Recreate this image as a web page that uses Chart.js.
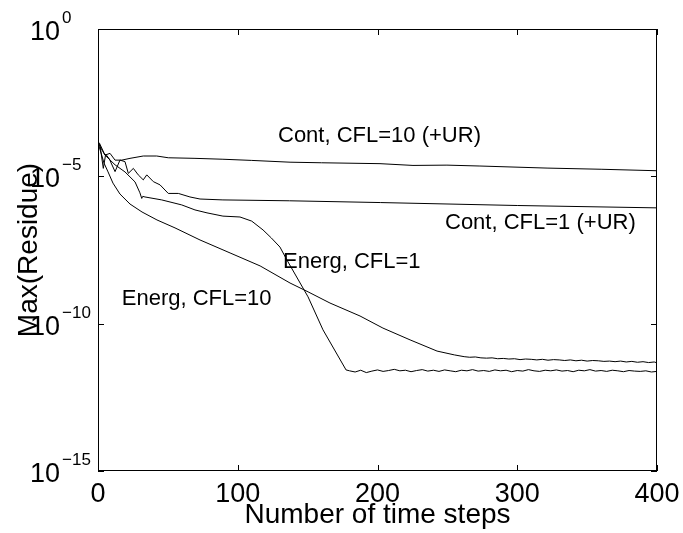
<!DOCTYPE html>
<html>
<head>
<meta charset="utf-8">
<script src="https://cdn.jsdelivr.net/npm/chart.js@4.4.1/dist/chart.umd.min.js"></script>
<style>
body{margin:0;background:#fff;}
#wrap{width:683px;height:533px;}
</style>
</head>
<body>
<div id="wrap"><canvas id="myChart" width="683" height="533"></canvas></div>
<script>
// axis ticks
var xTicks=[0,100,200,300,400];
var yTickExps=[0,-5,-10,-15];
var yTickSup=["0","\u22125","\u221210","\u221215"];

// residues as log10 values
var contCfl10Steps=[0,1,5,8.6,12.2,17,22.9,32.4,42,50.3,69.4,89.4,110,137.4,160,201.8,225.4,249.7,273.3,321.3,360,400];
var contCfl10Log=[-3.9,-3.87,-4.28,-4.22,-4.45,-4.45,-4.39,-4.31,-4.31,-4.37,-4.39,-4.42,-4.46,-4.52,-4.54,-4.57,-4.63,-4.62,-4.65,-4.72,-4.76,-4.81];

var contCfl1Steps=[0,1.4,3.8,5.5,8,12.2,15.7,19.3,21.7,25.3,28.8,32.4,34.9,39.6,44.4,50.3,57.5,65.8,73,89.4,137,202,300,400];
var contCfl1Log=[-3.87,-3.94,-4.73,-4.25,-4.40,-4.84,-4.45,-4.50,-4.90,-4.73,-4.95,-5.12,-4.95,-5.18,-5.29,-5.58,-5.58,-5.70,-5.77,-5.80,-5.83,-5.89,-5.99,-6.07];

var energCfl1Steps=[0,5,12.2,19.3,26.5,30,31.3,32,33.6,45.6,59.9,69.4,78,89.4,101.6,110,118.1,124,130.2,135.2,150.3,161,177.5,
  180,184,188,192,196,200,204,208,212,216,220,224,228,232,236,240,244,248,252,256,260,264,268,272,276,280,284,288,292,296,
  300,304,308,312,316,320,324,328,332,336,340,344,348,352,356,360,364,368,372,376,380,384,388,392,396,400];
var energCfl1Log=[-3.87,-4.28,-4.61,-4.85,-5.19,-5.56,-5.75,-5.68,-5.70,-5.80,-5.97,-6.14,-6.24,-6.35,-6.38,-6.52,-6.82,-7.09,-7.40,-7.84,-9.09,-10.21,-11.57,
  -11.60,-11.64,-11.58,-11.66,-11.61,-11.57,-11.62,-11.59,-11.55,-11.60,-11.58,-11.63,-11.59,-11.56,-11.61,-11.58,-11.62,-11.57,-11.60,-11.63,-11.58,-11.60,-11.56,-11.61,-11.59,-11.62,-11.57,-11.60,-11.58,-11.63,
  -11.59,-11.61,-11.56,-11.60,-11.62,-11.58,-11.60,-11.57,-11.61,-11.59,-11.63,-11.58,-11.60,-11.56,-11.61,-11.59,-11.62,-11.58,-11.60,-11.63,-11.59,-11.61,-11.62,-11.60,-11.64,-11.62];

var energCfl10Steps=[0,2.2,4.3,7.2,10.7,15.7,22.9,31.5,42.2,55.1,73,94.5,116,137.4,150.3,166,187.5,203.9,223.3,242.6,255,
  262,266,270,274,278,282,286,290,294,298,302,306,310,314,318,322,326,330,334,338,342,346,350,354,358,362,366,370,374,378,382,386,390,394,398,400];
var energCfl10Log=[-3.87,-4.21,-4.55,-4.85,-5.23,-5.60,-5.94,-6.21,-6.48,-6.75,-7.16,-7.60,-8.04,-8.62,-8.92,-9.30,-9.74,-10.15,-10.55,-10.93,-11.06,
  -11.12,-11.14,-11.13,-11.16,-11.17,-11.16,-11.19,-11.18,-11.20,-11.19,-11.22,-11.20,-11.21,-11.23,-11.21,-11.24,-11.22,-11.23,-11.25,-11.23,-11.26,-11.24,-11.27,-11.25,-11.26,-11.28,-11.27,-11.29,-11.27,-11.30,-11.28,-11.31,-11.29,-11.32,-11.30,-11.33];

// curve labels, anchored in data units (left edge, baseline)
var noteTexts=["Cont, CFL=10 (+UR)","Cont, CFL=1 (+UR)","Energ, CFL=1","Energ, CFL=10"];
var noteSteps=[128.8,248.3,132.4,17.0];
var noteLogs=[-3.82,-6.79,-8.10,-9.37];

var FONT='"Liberation Sans", Arial, Helvetica, sans-serif';

function toPoints(steps,logs){
	var pts=[];
	for(var i=0;i<steps.length;i++){
		pts.push({x:steps[i],y:Math.pow(10,logs[i])});
	}
	return pts;
}

function makeSet(steps,logs){
	return {data:toPoints(steps,logs),borderColor:'#000',borderWidth:1,pointRadius:0,fill:false,tension:0};
}

var frame={
	id:'frame',
	afterDatasetsDraw:function(chart){
		var ctx=chart.ctx, a=chart.chartArea;
		var xs=chart.scales.x, ys=chart.scales.y;
		ctx.save();
		ctx.strokeStyle='#000';
		ctx.lineWidth=1;
		ctx.strokeRect(a.left+0.5,a.top+0.5,a.right-a.left-1,a.bottom-a.top-1);

		ctx.beginPath();
		for(var i=0;i<xTicks.length;i++){
			var px=Math.round(xs.getPixelForValue(xTicks[i]))+0.5;
			ctx.moveTo(px,a.bottom);ctx.lineTo(px,a.bottom-6);
			ctx.moveTo(px,a.top);ctx.lineTo(px,a.top+6);
		}
		for(var j=0;j<yTickExps.length;j++){
			var py=Math.round(ys.getPixelForValue(Math.pow(10,yTickExps[j])))+0.5;
			ctx.moveTo(a.left,py);ctx.lineTo(a.left+6,py);
			ctx.moveTo(a.right,py);ctx.lineTo(a.right-6,py);
		}
		ctx.stroke();

		ctx.fillStyle='#000';
		ctx.textBaseline='alphabetic';

		// x tick labels
		ctx.font='27px '+FONT;
		ctx.textAlign='center';
		for(var i=0;i<xTicks.length;i++){
			ctx.fillText(String(xTicks[i]),xs.getPixelForValue(xTicks[i]),a.bottom+31);
		}

		// y tick labels 10^n
		for(var j=0;j<yTickExps.length;j++){
			var py=ys.getPixelForValue(Math.pow(10,yTickExps[j]));
			ctx.font='27px '+FONT;
			ctx.textAlign='right';
			ctx.fillText('10',a.left-38,py+11);
			ctx.font='17px '+FONT;
			ctx.textAlign='left';
			ctx.fillText(yTickSup[j],a.left-36,py-6);
		}

		// axis titles
		ctx.font='28px '+FONT;
		ctx.textAlign='center';
		ctx.fillText('Number of time steps',(a.left+a.right)/2,a.bottom+52);
		ctx.save();
		ctx.translate(37,(a.top+a.bottom)/2);
		ctx.rotate(-Math.PI/2);
		ctx.fillText('Max(Residue)',0,0);
		ctx.restore();

		// curve labels
		ctx.font='22px '+FONT;
		ctx.textAlign='left';
		for(var k=0;k<noteTexts.length;k++){
			ctx.fillText(noteTexts[k],xs.getPixelForValue(noteSteps[k]),ys.getPixelForValue(Math.pow(10,noteLogs[k])));
		}
		ctx.restore();
	}
};

var ctx=document.getElementById('myChart').getContext('2d');
var myChart=new Chart(ctx,{
	type:'line',
	data:{
		datasets:[
			makeSet(contCfl10Steps,contCfl10Log),
			makeSet(contCfl1Steps,contCfl1Log),
			makeSet(energCfl1Steps,energCfl1Log),
			makeSet(energCfl10Steps,energCfl10Log)
		]
	},
	options:{
		responsive:false,
		animation:false,
		devicePixelRatio:1,
		layout:{padding:{left:98,top:29,right:26,bottom:62}},
		plugins:{legend:{display:false},tooltip:{enabled:false}},
		scales:{
			x:{type:'linear',min:0,max:400,display:false},
			y:{type:'logarithmic',min:1e-15,max:1,display:false}
		}
	},
	plugins:[frame]
});
</script>
</body>
</html>
